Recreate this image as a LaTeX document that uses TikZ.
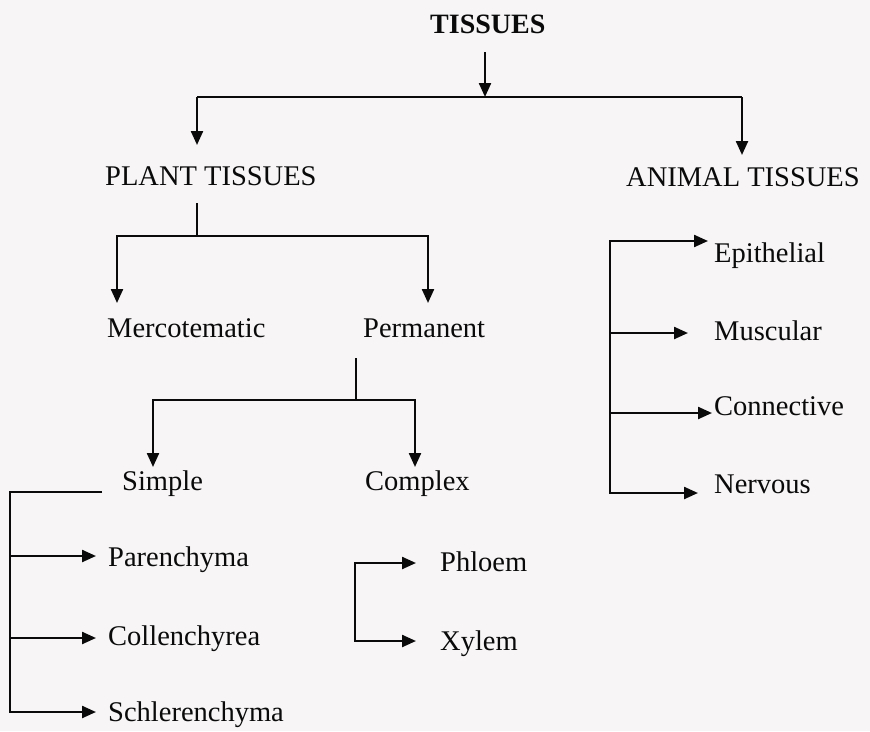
\documentclass[tikz,border=0pt]{standalone}
\usepackage{fontspec}
\setmainfont{Liberation Serif}
\usetikzlibrary{arrows.meta}
\definecolor{paper}{RGB}{247,245,245}
\definecolor{ink}{RGB}{10,10,10}
\begin{document}
\begin{tikzpicture}[x=1pt,y=-1pt,
  lbl/.style={anchor=base west,inner sep=0pt,text=ink,font=\fontsize{28.5}{30}\selectfont},
  ttl/.style={lbl,font=\fontsize{28}{30}\selectfont\bfseries},
  conn/.style={draw=ink,line width=2.3pt},
  arr/.style={conn,-{Triangle[length=14pt,width=12pt]}},
  arrb/.style={conn,{Triangle[length=14pt,width=12pt]}-{Triangle[length=14pt,width=12pt]}}]
\fill[paper] (0,0) rectangle (870,731);
\useasboundingbox (0,0) rectangle (870,731);

% nodes
\node[ttl] (tis) at (430,33) {TISSUES};
\node[lbl] (plant) at (105,185) {PLANT TISSUES};
\node[lbl] (animal) at (626,186) {ANIMAL TISSUES};
\node[lbl] (merc) at (107,337) {Mercotematic};
\node[lbl] (perm) at (363,337) {Permanent};
\node[lbl] (simple) at (122,490) {Simple};
\node[lbl] (complex) at (365,490) {Complex};
\node[lbl] (par) at (108,566) {Parenchyma};
\node[lbl] (col) at (108,645) {Collenchyrea};
\node[lbl] (sch) at (108,721) {Schlerenchyma};
\node[lbl] (phl) at (440,571) {Phloem};
\node[lbl] (xyl) at (440,650) {Xylem};
\node[lbl] (epi) at (714,262) {Epithelial};
\node[lbl] (mus) at (714,340) {Muscular};
\node[lbl] (con) at (714,415) {Connective};
\node[lbl] (ner) at (714,493) {Nervous};

% junction coordinates
\coordinate (tisTop) at (485,52);
\coordinate (tisBar) at (485,97);
\coordinate (barL) at (197,97);
\coordinate (barR) at (742,97);
\coordinate (plantTop) at (197,203);
\coordinate (plantBar) at (197,236);
\coordinate (permTop) at (356,358);
\coordinate (permBar) at (356,400);

% TISSUES
\draw[arr] (tisTop) -- (tisBar);
\draw[conn] (barL) -- (barR);
\draw[arr] (barL) -- (197,145);
\draw[arr] (barR) -- (742,155);

% plant tissues
\draw[conn] (plantTop) -- (plantBar);
\draw[arr] (plantBar) -| (117,303);
\draw[arr] (plantBar) -| (428,303);

% permanent
\draw[conn] (permTop) -- (permBar);
\draw[arr] (permBar) -| (153,467);
\draw[arr] (permBar) -| (415,467);

% simple
\draw[arr] (102,492) -- (10,492) -- (10,712) -- (96,712);
\draw[arr] (10,556) -- (96,556);
\draw[arr] (10,638) -- (96,638);

% complex
\draw[arrb] (416,563) -- (355,563) -- (355,641) -- (416,641);

% animal tissues
\draw[arrb] (708,241) -- (610,241) -- (610,493) -- (698,493);
\draw[arr] (610,333) -- (688,333);
\draw[arr] (610,413) -- (712,413);
\end{tikzpicture}
\end{document}
